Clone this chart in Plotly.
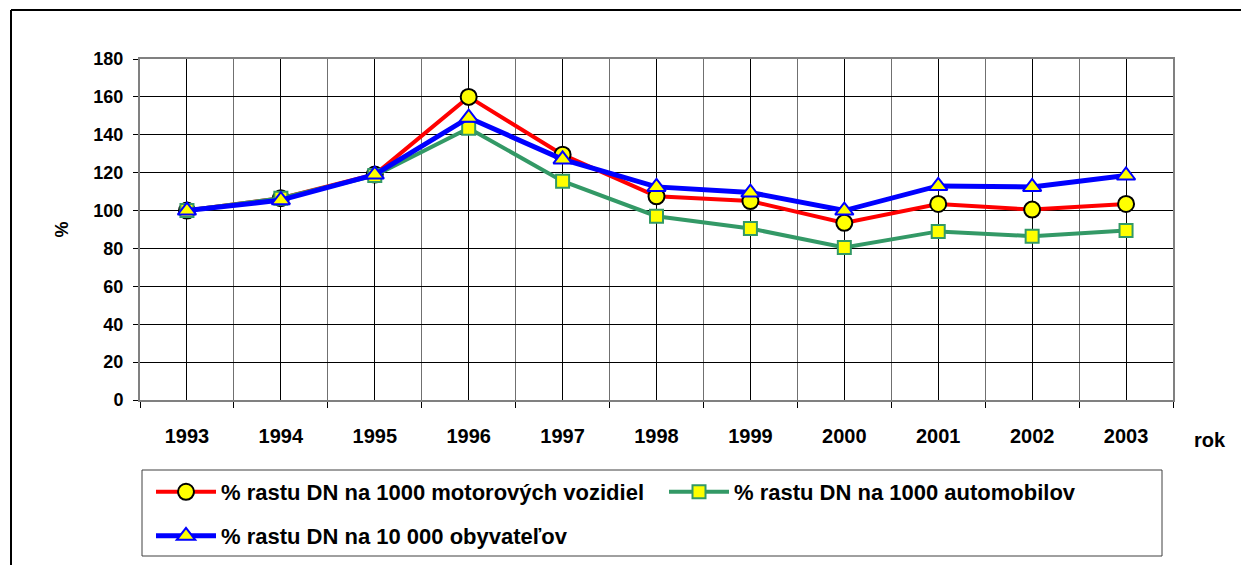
import plotly.graph_objects as go

years = ["1993", "1994", "1995", "1996", "1997", "1998", "1999", "2000", "2001", "2002", "2003"]
motor_vehicles = [100, 106.5, 119, 160, 129.5, 107.5, 105, 93.5, 103.5, 100.5, 103.5]
automobiles = [100, 106.5, 118.5, 143.5, 115.5, 97, 90.5, 80.5, 89, 86.5, 89.5]
inhabitants = [100, 105.5, 119, 149, 127, 112.5, 109.5, 100, 113, 112.5, 118.5]

names = [
    "% rastu DN na 1000 motorových vozidiel",
    "% rastu DN na 1000 automobilov",
    "% rastu DN na 10 000 obyvateľov",
]

FONT = "Liberation Sans, Arial, sans-serif"
W, H = 1241, 565
L, R, T, B = 140, 1173, 59, 400
PW, PH = R - L, B - T


def px(x):
    return (x - L) / PW


def py(y):
    return (B - y) / PH


idx = list(range(len(years)))

fig = go.Figure()
fig.add_trace(go.Scatter(
    x=idx, y=motor_vehicles, name=names[0], mode="lines+markers",
    line=dict(color="#FF0000", width=4),
    marker=dict(symbol="circle", size=16, color="#FFFF00", line=dict(color="#000000", width=2)),
    legend="legend",
))
fig.add_trace(go.Scatter(
    x=idx, y=automobiles, name=names[1], mode="lines+markers",
    line=dict(color="#339966", width=4),
    marker=dict(symbol="square", size=13, color="#FFFF00", line=dict(color="#339966", width=2)),
    legend="legend3",
))
fig.add_trace(go.Scatter(
    x=idx, y=inhabitants, name=names[2], mode="lines+markers",
    line=dict(color="#0000FF", width=5),
    marker=dict(symbol="triangle-up", size=16, color="#FFFF00", line=dict(color="#0000FF", width=2)),
    legend="legend2",
))

legfont = dict(family=FONT, size=22, color="black", weight="bold")


def leg(x, y):
    return dict(
        orientation="h", xref="container", yref="container",
        x=x / W, y=1 - y / H, xanchor="left", yanchor="middle",
        font=legfont, itemwidth=60, borderwidth=0, bgcolor="rgba(0,0,0,0)",
    )


fig.update_layout(
    width=W, height=H,
    margin=dict(l=L, r=W - R, t=T, b=H - B),
    paper_bgcolor="white", plot_bgcolor="white",
    font=dict(family=FONT, color="black"),
    showlegend=True,
    legend=leg(151, 492),
    legend3=leg(664, 492),
    legend2=leg(151, 536),
    xaxis=dict(
        range=[-0.5, 10.5], tickmode="array", tickvals=idx, ticktext=years,
        ticks="", showgrid=True, gridcolor="#000000", gridwidth=1,
        showline=True, linecolor="#808080", linewidth=2, mirror=True,
        tickfont=dict(family=FONT, size=20, color="black", weight="bold"),
        ticklabelstandoff=17,
        minor=dict(tickmode="linear", tick0=0.5, dtick=1, ticks="outside", ticklen=6,
                   tickcolor="#000000", showgrid=True, gridcolor="#707070", gridwidth=1),
        zeroline=False, fixedrange=True,
    ),
    yaxis=dict(
        range=[0, 180], tickmode="linear", tick0=0, dtick=20,
        ticks="outside", ticklen=5, tickcolor="#000000",
        showgrid=True, gridcolor="#000000", gridwidth=1,
        showline=True, linecolor="#808080", linewidth=2, mirror=True,
        tickfont=dict(family=FONT, size=18, color="black", weight="bold"),
        ticklabelstandoff=6,
        title=dict(text="%", font=dict(family=FONT, size=18, color="black", weight="bold"), standoff=20),
        zeroline=False, fixedrange=True,
    ),
    shapes=[
        # outer frame (left and top)
        dict(type="line", xref="paper", yref="paper", x0=px(11), x1=px(1242), y0=py(10), y1=py(10),
             line=dict(color="black", width=2)),
        dict(type="line", xref="paper", yref="paper", x0=px(11), x1=px(11), y0=py(10), y1=py(566),
             line=dict(color="black", width=2)),
        # legend box
        dict(type="rect", xref="paper", yref="paper", x0=px(142), x1=px(1162), y0=py(470), y1=py(556),
             line=dict(color="#404040", width=1), fillcolor="rgba(0,0,0,0)"),
    ],
    annotations=[
        dict(text="rok", xref="paper", yref="paper", x=px(1192), y=py(440), xanchor="left", yanchor="middle",
             showarrow=False, font=dict(family=FONT, size=20, color="black", weight="bold")),
    ],
)

fig.write_html("out.html", config={"displayModeBar": False},
               post_script="document.body.style.margin='0px';")
